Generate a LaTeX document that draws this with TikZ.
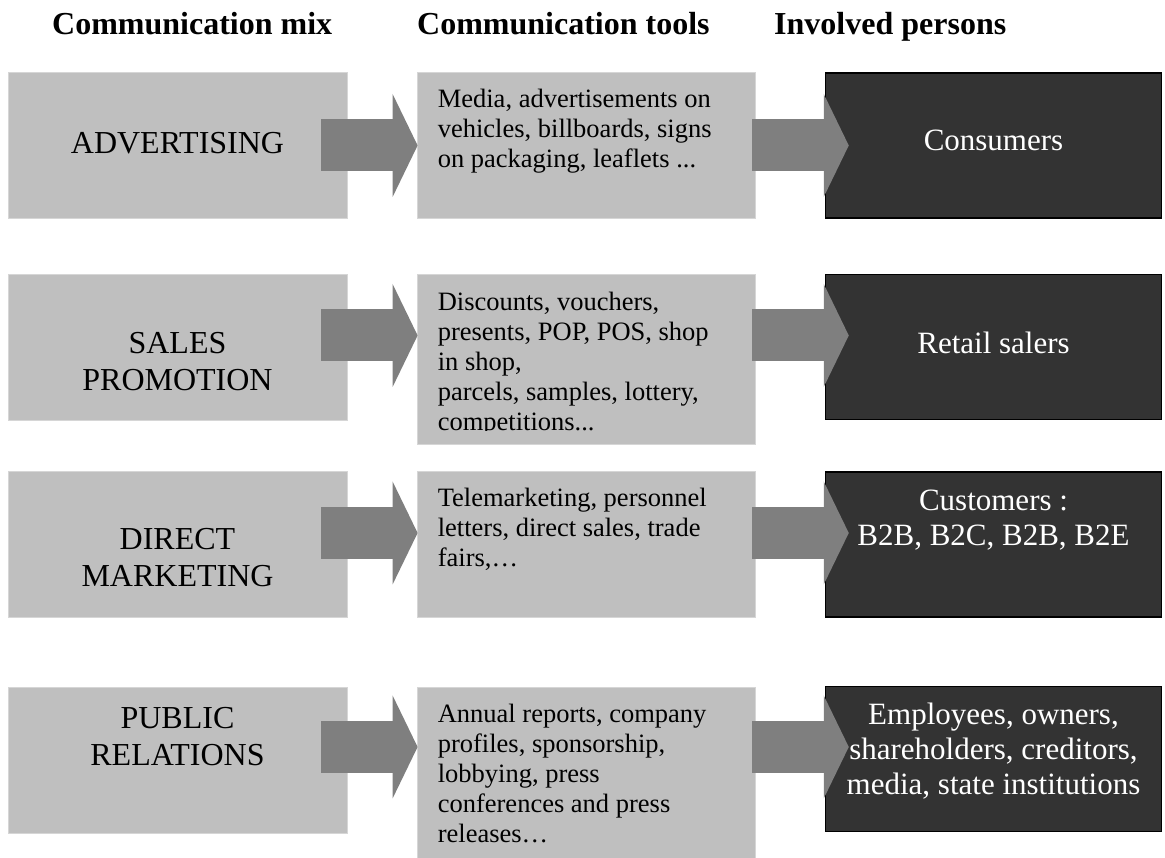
\documentclass[tikz,border=0pt]{standalone}
\usepackage{fontspec}
\setmainfont{Liberation Serif}
\usetikzlibrary{arrows.meta}
\definecolor{boxgray}{RGB}{191,191,191}
\definecolor{edgegray}{RGB}{214,214,214}
\definecolor{arrgray}{RGB}{127,127,127}
\definecolor{darkbox}{RGB}{51,51,51}

\begin{document}
\begin{tikzpicture}[x=1pt, y=1pt]
        \tikzstyle{head} = [anchor=base west, inner sep=0, font=\fontsize{32}{37}\selectfont\bfseries]
        \tikzstyle{lbox} = [fill=boxgray, draw=edgegray, line width=0.8pt, inner sep=0, minimum width=339pt, minimum height=146pt]
        \tikzstyle{dbox} = [fill=darkbox, draw=black, line width=1.5pt, inner sep=0, minimum width=336pt, minimum height=145pt]
        \tikzstyle{mixtxt} = [anchor=north, align=center, inner sep=0, font=\fontsize{32}{37}\selectfont]
        \tikzstyle{toolstxt} = [anchor=north west, align=left, inner sep=0, font=\fontsize{26.5}{30}\selectfont]
        \tikzstyle{perstxt} = [anchor=north, align=center, inner sep=0, text=white, font=\fontsize{31}{35}\selectfont]
        \tikzstyle{blk} = [draw=arrgray, line width=52pt, -{Triangle[length=25pt, width=103pt, line width=0pt]}]

        \useasboundingbox (0, 0) rectangle (1165, 858);

        \node[head] (hmix) at (52, 823) {Communication mix};
        \node[head] (htools) at (417, 823) {Communication tools};
        \node[head] (hpers) at (774, 823) {Involved persons};

        % boxes
        \node[lbox] (mix1) at (177.5, 712.5) {};
        \node[lbox] (mix2) at (177.5, 511) {};
        \node[lbox] (mix3) at (177.5, 313.5) {};
        \node[lbox] (mix4) at (177.5, 98) {};

        \node[lbox, minimum width=338pt] (tools1) at (586, 712.5) {};
        \node[lbox, minimum width=338pt, minimum height=170pt] (tools2) at (586, 499) {};
        \node[lbox, minimum width=338pt] (tools3) at (586, 313.5) {};
        \node[lbox, minimum width=338pt, minimum height=171pt] (tools4) at (586, 85.5) {};

        \node[dbox] (pers1) at (993.5, 712.5) {};
        \node[dbox] (pers2) at (993.5, 511) {};
        \node[dbox] (pers3) at (993.5, 313.5) {};
        \node[dbox] (pers4) at (993.5, 99) {};

        % texts
        \node[mixtxt] (mixtxt1) at (177.5, 726) {ADVERTISING};
        \node[mixtxt] (mixtxt2) at (177.5, 526) {SALES\\PROMOTION};
        \node[mixtxt] (mixtxt3) at (177.5, 330) {DIRECT\\MARKETING};
        \node[mixtxt] (mixtxt4) at (177.5, 151) {PUBLIC\\RELATIONS};

        \node[toolstxt] (toolstxt1) at ([xshift=21pt, yshift=-17pt]tools1.north west) {Media, advertisements on\\vehicles, billboards, signs\\on packaging, leaflets ...};
        \begin{scope}
            \clip (tools2.north west) rectangle ([yshift=14pt]tools2.south east);
            \node[toolstxt] (toolstxt2) at ([xshift=21pt, yshift=-18pt]tools2.north west) {Discounts, vouchers,\\presents, POP, POS, shop\\in shop,\\parcels, samples, lottery,\\competitions...};
        \end{scope}
        \node[toolstxt] (toolstxt3) at ([xshift=21pt, yshift=-17pt]tools3.north west) {Telemarketing, personnel\\letters, direct sales, trade\\fairs,…};
        \node[toolstxt] (toolstxt4) at ([xshift=21pt, yshift=-17pt]tools4.north west) {Annual reports, company\\profiles, sponsorship,\\lobbying, press\\conferences and press\\releases…};

        \node[perstxt] (perstxt1) at (993.5, 728) {Consumers};
        \node[perstxt] (perstxt2) at (993.5, 526) {Retail salers};
        \node[perstxt] (perstxt3) at (993.5, 368) {Customers :\\B2B, B2C, B2B, B2E};
        \node[perstxt] (perstxt4) at (993.5, 155) {Employees, owners,\\shareholders, creditors,\\media, state institutions};

        % arrows
        \coordinate (lvl1) at (0, 712.5);
        \coordinate (lvl2) at (0, 522.5);
        \coordinate (lvl3) at (0, 325);
        \coordinate (lvl4) at (0, 111);

        \path[blk] ([xshift=-26pt]mix1.east |- lvl1) to ([xshift=1pt]tools1.west |- lvl1);
        \path[blk] ([xshift=-26pt]mix2.east |- lvl2) to ([xshift=1pt]tools2.west |- lvl2);
        \path[blk] ([xshift=-26pt]mix3.east |- lvl3) to ([xshift=1pt]tools3.west |- lvl3);
        \path[blk] ([xshift=-26pt]mix4.east |- lvl4) to ([xshift=1pt]tools4.west |- lvl4);

        \path[blk] ([xshift=-3pt]tools1.east |- lvl1) to ([xshift=24pt]pers1.west |- lvl1);
        \path[blk] ([xshift=-3pt]tools2.east |- lvl2) to ([xshift=24pt]pers2.west |- lvl2);
        \path[blk] ([xshift=-3pt]tools3.east |- lvl3) to ([xshift=24pt]pers3.west |- lvl3);
        \path[blk] ([xshift=-3pt]tools4.east |- lvl4) to ([xshift=24pt]pers4.west |- lvl4);
\end{tikzpicture}
\end{document}
